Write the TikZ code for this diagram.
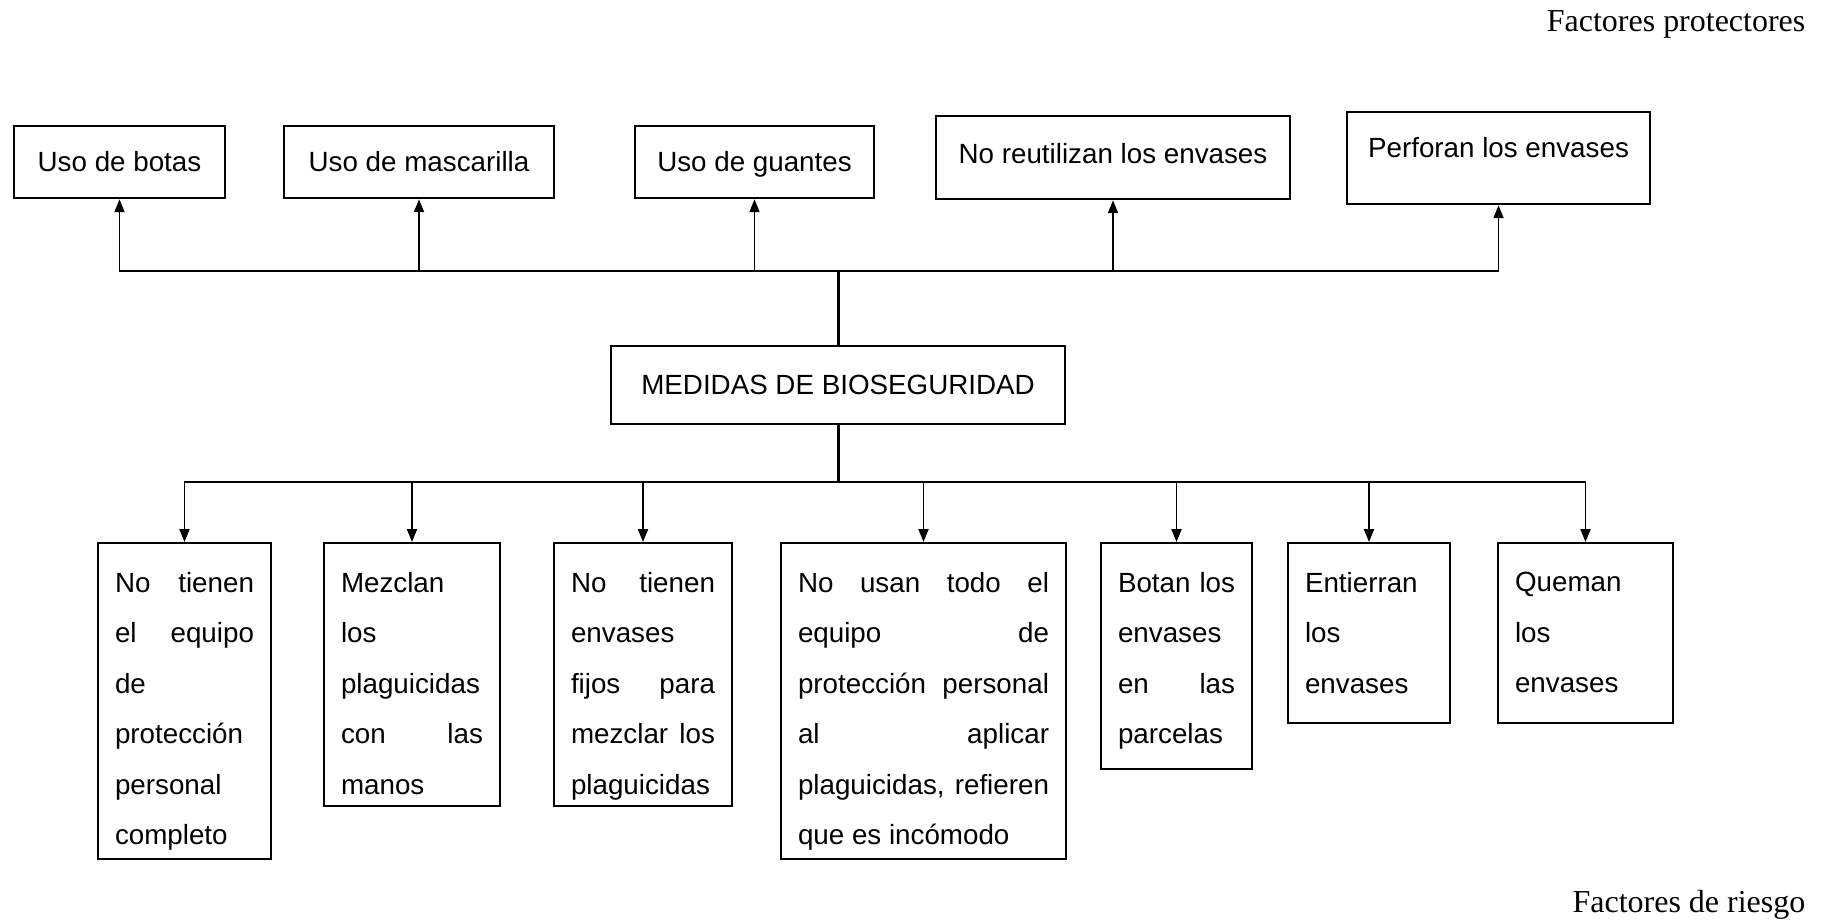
\documentclass[tikz,border=0pt]{standalone}
\usepackage{fontspec}
\setmainfont{Liberation Sans}
\newfontfamily\timesfont{Liberation Serif}
\usetikzlibrary{arrows.meta}
\newcommand{\boxtxt}[3]{\parbox[c][#2][t]{#1}{#3}}
\newcommand{\jl}[1]{\makebox[\linewidth][s]{#1}}

\begin{document}
\begin{tikzpicture}[
    font=\fontsize{7.9}{14.37}\selectfont,
    protbox/.style={draw, line width=0.7pt, minimum height=0.72cm, inner sep=0pt,
      text height=0.2cm, text depth=0.02cm},
    riskbox/.style={draw, line width=0.7pt, anchor=north, inner xsep=0.17cm, inner ysep=0.29cm},
    caption/.style={anchor=base east, inner sep=0pt, font=\timesfont\fontsize{9.1}{11}\selectfont},
    arr/.style={-{Triangle[length=0.13cm,width=0.1cm]}, line width=0.55pt},
    trunk/.style={line width=0.85pt}]
    \useasboundingbox (0,0) rectangle (18.25,-9.2);
    % NODES
    % side captions
    \node[caption] (fp) at (18.06,-0.31) {Factores protectores};
    \node[caption] (fr) at (18.06,-9.12) {Factores de riesgo};
    % protective factors
    \node[protbox, minimum width=2.11cm] (botas) at (1.195,-1.62) {Uso de botas};
    \node[protbox, minimum width=2.70cm] (mascarilla) at (4.19,-1.62) {Uso de mascarilla};
    \node[protbox, minimum width=2.39cm] (guantes) at (7.545,-1.62) {Uso de guantes};
    \node[protbox, minimum width=3.54cm, minimum height=0.83cm, text depth=0.09cm] (reutilizan) at (11.13,-1.575) {No reutilizan los envases};
    \node[protbox, minimum width=3.03cm, minimum height=0.92cm, text depth=0.22cm] (perforan) at (14.985,-1.58) {Perforan los envases};
    % centre node
    \node[draw, line width=0.7pt, minimum width=4.54cm, minimum height=0.78cm] (centre) at (8.38,-3.85) {MEDIDAS DE BIOSEGURIDAD};
    \coordinate (top) at (8.38,-2.71);
    \coordinate (bot) at (8.38,-4.82);
    % risk factors
    \node[riskbox] (r1) at (1.845,-5.42) {\boxtxt{1.39cm}{2.58cm}{\jl{No tienen}\\ \jl{el equipo}\\ de\\ protección\\ personal\\ completo}};
    \node[riskbox] (r2) at (4.12,-5.42) {\boxtxt{1.42cm}{2.05cm}{Mezclan\\ los\\ plaguicidas\\ \jl{con las}\\ manos}};
    \node[riskbox] (r3) at (6.43,-5.42) {\boxtxt{1.44cm}{2.05cm}{\jl{No tienen}\\ envases\\ \jl{fijos para}\\ \jl{mezclar los}\\ plaguicidas}};
    \node[riskbox] (r4) at (9.235,-5.42) {\boxtxt{2.51cm}{2.58cm}{\jl{No usan todo el}\\ \jl{equipo de}\\ \jl{protección personal}\\ \jl{al aplicar}\\ \jl{plaguicidas, refieren}\\ que es incómodo}};
    \node[riskbox] (r5) at (11.765,-5.42) {\boxtxt{1.17cm}{1.68cm}{\jl{Botan los}\\ envases\\ \jl{en las}\\ parcelas}};
    \node[riskbox] (r6) at (13.69,-5.42) {\boxtxt{1.28cm}{1.22cm}{Entierran\\ los\\ envases}};
    \node[riskbox] (r7) at (15.855,-5.42) {\boxtxt{1.41cm}{1.22cm}{Queman\\ los\\ envases}};

    % ARROWS
    \draw[trunk] (centre.north) -- (top);
    \foreach \n in {botas,mascarilla,guantes,reutilizan,perforan}
      \draw[arr] (top) -| (\n.south);
    \draw[trunk] (centre.south) -- (bot);
    \foreach \n in {r1,r2,r3,r4,r5,r6,r7}
      \draw[arr] (bot) -| (\n.north);
\end{tikzpicture}
\end{document}
